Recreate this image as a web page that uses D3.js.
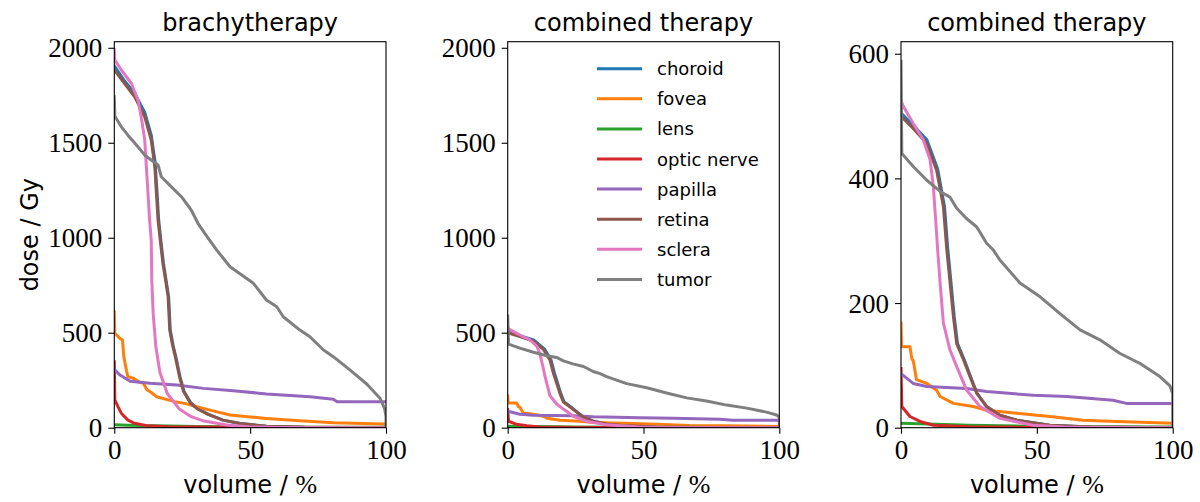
<!DOCTYPE html>
<html>
<head>
<meta charset="utf-8">
<script src="https://cdn.jsdelivr.net/npm/d3@7"></script>
<style>
  body { margin: 0; background: #fff; }
  svg { display: block; }
</style>
</head>
<body>
<div id="chart"></div>
<script>
// Dose-volume histograms
// each entry is [volume %, dose Gy]

const structures = ["choroid", "fovea", "lens", "optic nerve", "papilla", "retina", "sclera", "tumor"];
const colors = ["#1f77b4", "#ff7f0e", "#2ca02c", "#d62728", "#9467bd", "#8c564b", "#e377c2", "#7f7f7f"];

// --- brachytherapy ---
const brachyChoroid = [[0,1905],[3.8,1825],[7.5,1760],[11.2,1660],[13.6,1540],[15,1400],[15.7,1250],[16.3,1100],[17.1,990],[18.1,865],[20,690],[20.6,514],[21.7,430],[22.7,370],[24.2,268],[25.7,190],[28.2,130],[30.7,100],[34.7,70],[40,40],[46.3,22],[56,8],[70,2],[100,0]];
const brachyFovea = [[0,610],[0.2,497],[2.1,470],[3,462],[3.5,374],[4.5,300],[5,268],[7,260],[9.3,240],[10.7,234],[12,200],[13.6,185],[15.6,163],[22.2,137],[26,128],[30.3,110],[36,90],[42.6,67],[56,49],[68.3,37],[80.6,26],[99,19],[100,19]];
const brachyLens = [[0,16],[5,13],[15,10],[30,6],[60,3],[100,2]];
const brachyOptic = [[0,347],[0.2,146],[1.4,110],[2.6,76],[5,40],[7.5,23],[12,10],[20,5],[40,2],[100,1]];
const brachyPapilla = [[0,312],[0.5,300],[2.1,277],[5.8,245],[13.1,234],[23,225],[32.8,207],[43.8,195],[56,178],[72,163],[80.6,150],[82,137],[100,137]];
const brachyRetina = [[0,1883],[3.8,1812],[7.5,1742],[11.2,1637],[13.6,1514],[14.9,1374],[15.5,1234],[16.1,1093],[16.9,988],[17.9,865],[19.8,690],[20.4,514],[21.5,430],[22.5,370],[24,268],[25.5,190],[28,130],[30.5,100],[34.5,70],[40,40],[46.3,22],[56,8],[70,2],[100,0]];
const brachySclera = [[0,1990],[0.2,1935],[2.6,1883],[6.3,1812],[8.7,1725],[9.9,1637],[11.2,1514],[11.8,1374],[12.4,1234],[13,1093],[13.6,988],[13.8,777],[14.3,602],[15.3,426],[16.8,290],[19.5,180],[23.8,100],[28.3,58],[33,35],[41.4,14],[50,4],[60,1],[100,0]];
const brachyTumor = [[0,1742],[0.2,1640],[2.6,1584],[5,1540],[8.7,1479],[11.2,1435],[13.6,1409],[16.1,1383],[17.3,1321],[21,1268],[24.7,1216],[28.3,1146],[30.8,1076],[33.3,1023],[37.7,935],[42.6,847],[51.2,760],[56,672],[59.8,637],[62.2,584],[68.3,514],[72,479],[77,409],[80.6,374],[86.7,304],[92.9,230],[97.8,155],[99.5,100],[100,60],[100,0]];

// --- combined therapy ---
const combChoroid = [[0,505],[4.5,485],[9.5,462],[13.5,415],[16,355],[17.2,288],[19.6,178],[20.8,135],[23.3,109],[25.6,82],[28,55],[31.5,34],[36.4,20],[42.6,12],[54.8,4],[70,1],[100,0]];
const combFovea = [[0,168],[0.2,130],[3.3,130],[4,110],[4.5,108],[5.7,77],[9.5,71],[13.1,60],[14.4,50],[19.3,39],[26.6,34],[31.5,28],[42.6,23],[54.8,18],[67,12],[79.4,10],[100,7]];
const combLens = [[0,7],[10,6],[25,4],[50,2],[100,1]];
const combOptic = [[0,95],[0.3,34],[3.3,18],[7,10],[11.9,4],[25,1.5],[50,0.5],[100,0.3]];
const combPapilla = [[0,86],[0.8,84],[4.5,71],[9.5,66],[24.2,63],[31.5,58],[48.7,52],[61,50],[78,44],[83,39],[100,39]];
const combRetina = [[0,500],[4.5,480],[9.5,456],[13.1,413],[15.6,355],[16.8,288],[19.3,178],[20.5,135],[23,109],[25.4,82],[27.9,55],[31.5,34],[36.4,20],[42.6,12],[54.8,4],[70,1],[100,0]];
const combSclera = [[0,525],[0.8,516],[4.5,488],[8.2,462],[10.7,430],[11.9,387],[13.1,312],[13.5,285],[14.4,232],[15.6,168],[18,125],[20.5,98],[24.2,60],[29.1,34],[36.4,15],[48.6,4],[60,1],[100,0]];
const combTumor = [[0,588],[0.3,440],[4.5,419],[9.5,397],[14.4,379],[18,370],[20.5,352],[24,336],[27.9,322],[31.5,296],[34,285],[36.4,269],[43.8,232],[51.2,210],[58.5,183],[65.9,157],[73.2,141],[80.6,119],[88,103],[95.3,82],[99,67],[100,55],[100,0]];

const brachy = [brachyChoroid, brachyFovea, brachyLens, brachyOptic, brachyPapilla, brachyRetina, brachySclera, brachyTumor];
const combined = [combChoroid, combFovea, combLens, combOptic, combPapilla, combRetina, combSclera, combTumor];

const xTicks = [0, 50, 100];
const yTicksBig = [0, 500, 1000, 1500, 2000];
const yTicksSmall = [0, 200, 400, 600];

// --- layout ---
const W = 1200, H = 502;
const plotTop = 41.7, plotBottom = 427.7;
const sansFont = "'DejaVu Sans', sans-serif";
const serifFont = "'Liberation Serif', 'DejaVu Serif', serif";

const panels = [
  { title: "brachytherapy", left: 114.3, right: 386, yMax: 2032, yTicks: yTicksBig, series: brachy },
  { title: "combined therapy", left: 507.7, right: 779.3, yMax: 2032, yTicks: yTicksBig, series: combined, legend: true },
  { title: "combined therapy", left: 901, right: 1172.7, yMax: 619.3, yTicks: yTicksSmall, series: combined }
];

const svg = d3.select("#chart")
  .append("svg")
  .attr("width", W)
  .attr("height", H);

panels.forEach(function(p) {
  const x = d3.scaleLinear().domain([0, 100]).range([p.left, p.right]);
  const y = d3.scaleLinear().domain([0, p.yMax]).range([plotBottom, plotTop]);

  const g = svg.append("g");

  // clip so lines stay inside the axes box
  const clipId = "clip" + Math.round(p.left);
  g.append("clipPath").attr("id", clipId)
    .append("rect")
    .attr("x", p.left).attr("y", plotTop)
    .attr("width", p.right - p.left).attr("height", plotBottom - plotTop);

  const line = d3.line()
    .x(function(d) { return x(d[0]); })
    .y(function(d) { return y(d[1]); });

  g.append("g")
    .attr("clip-path", "url(#" + clipId + ")")
    .selectAll("path")
    .data(p.series)
    .join("path")
    .attr("d", line)
    .attr("fill", "none")
    .attr("stroke", function(d, i) { return colors[i]; })
    .attr("stroke-width", 3)
    .attr("stroke-linejoin", "round")
    .attr("stroke-linecap", "square");

  // frame
  g.append("rect")
    .attr("x", p.left).attr("y", plotTop)
    .attr("width", p.right - p.left).attr("height", plotBottom - plotTop)
    .attr("fill", "none")
    .attr("stroke", "#000")
    .attr("stroke-width", 1.1);

  // axes
  const xAxis = g.append("g")
    .attr("transform", "translate(0," + plotBottom + ")")
    .call(d3.axisBottom(x).tickValues(xTicks).tickSize(6).tickPadding(4).tickFormat(d3.format("d")));
  const yAxis = g.append("g")
    .attr("transform", "translate(" + p.left + ",0)")
    .call(d3.axisLeft(y).tickValues(p.yTicks).tickSize(6).tickPadding(6).tickFormat(d3.format("d")));

  [xAxis, yAxis].forEach(function(a) {
    a.select(".domain").remove();
    a.selectAll(".tick line").attr("stroke", "#000").attr("stroke-width", 1.1);
    a.selectAll(".tick text")
      .attr("fill", "#000")
      .style("font-family", serifFont)
      .style("font-size", "27px");
  });
  xAxis.selectAll(".tick text").attr("dy", "0.78em");
  yAxis.selectAll(".tick text").attr("dy", "0.34em");

  // title
  g.append("text")
    .attr("x", (p.left + p.right) / 2)
    .attr("y", 31)
    .attr("text-anchor", "middle")
    .style("font-family", sansFont)
    .style("font-size", "24px")
    .text(p.title);

  // x label: "volume / %" with the percent sign in serif
  const xl = g.append("text")
    .attr("x", (p.left + p.right) / 2)
    .attr("y", 493)
    .attr("text-anchor", "middle")
    .style("font-family", sansFont)
    .style("font-size", "24px");
  xl.append("tspan").text("volume / ");
  xl.append("tspan").style("font-family", serifFont).style("font-size", "26px").text("%");

  if (p.legend) {
    const lg = g.append("g");
    structures.forEach(function(s, i) {
      const yy = 68.7 + i * 30.1;
      lg.append("line")
        .attr("x1", 597).attr("x2", 642)
        .attr("y1", yy).attr("y2", yy)
        .attr("stroke", colors[i])
        .attr("stroke-width", 3);
      lg.append("text")
        .attr("x", 657)
        .attr("y", yy + 6.5)
        .style("font-family", sansFont)
        .style("font-size", "18px")
        .text(s);
    });
  }
});

// y label
svg.append("text")
  .attr("transform", "translate(38," + ((plotTop + plotBottom) / 2) + ") rotate(-90)")
  .attr("text-anchor", "middle")
  .style("font-family", sansFont)
  .style("font-size", "24px")
  .text("dose / Gy");
</script>
</body>
</html>
